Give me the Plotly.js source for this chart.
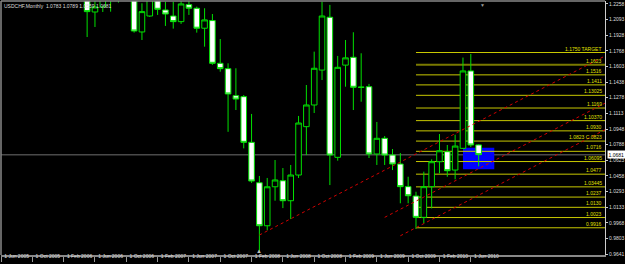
<!DOCTYPE html>
<html><head><meta charset="utf-8">
<script src="https://cdn.plot.ly/plotly-3.0.1.min.js"></script>
<style>html,body{margin:0;padding:0;background:#000;}#chart{width:625px;height:264px;}</style>
</head><body><div id="chart"></div>
<script>
const months = ['Jun 2005','Jul 2005','Aug 2005','Sep 2005','Oct 2005','Nov 2005','Dec 2005',
 'Jan 2006','Feb 2006','Mar 2006','Apr 2006','May 2006','Jun 2006','Jul 2006','Aug 2006','Sep 2006','Oct 2006','Nov 2006','Dec 2006',
 'Jan 2007','Feb 2007','Mar 2007','Apr 2007','May 2007','Jun 2007','Jul 2007','Aug 2007','Sep 2007','Oct 2007','Nov 2007','Dec 2007',
 'Jan 2008','Feb 2008','Mar 2008','Apr 2008','May 2008','Jun 2008','Jul 2008','Aug 2008','Sep 2008','Oct 2008','Nov 2008','Dec 2008',
 'Jan 2009','Feb 2009','Mar 2009','Apr 2009','May 2009','Jun 2009','Jul 2009','Aug 2009','Sep 2009','Oct 2009','Nov 2009','Dec 2009',
 'Jan 2010','Feb 2010','Mar 2010','Apr 2010','May 2010','Jun 2010','Jul 2010'];
const open = [1.2460,1.2810,1.2860,1.2480,1.2930,1.2900,1.3230,1.3150,1.2790,1.3120,1.3050,1.2370,1.2174,1.2227,1.2320,1.2350,1.2500,1.2530,1.1965,
 1.2132,1.2470,1.2195,1.2132,1.2073,1.2251,1.2213,1.2004,1.2084,1.1637,1.1581,1.1298,
 1.1288,1.0810,1.0387,0.9937,1.0345,1.0408,1.0199,1.0468,1.0974,1.1201,1.1566,1.2119,
 1.0653,1.1618,1.1700,1.1390,1.1392,1.0688,1.0852,1.0677,1.0583,1.0346,1.0248,1.0025,
 1.0346,1.0607,1.0712,1.0520,1.0747,1.1557,1.0783];
const high = [1.2870,1.3090,1.2920,1.2990,1.2990,1.3280,1.3290,1.3170,1.3160,1.3290,1.3060,1.2450,1.2570,1.2560,1.2530,1.2600,1.2760,1.2580,1.2265,
 1.2560,1.2550,1.2282,1.2282,1.2300,1.2360,1.2230,1.2213,1.2153,1.1891,1.1637,1.1585,
 1.1305,1.1107,1.0458,1.0437,1.0625,1.0541,1.0573,1.1086,1.1410,1.1759,1.2282,1.2248,
 1.1714,1.1881,1.1962,1.1742,1.1421,1.1023,1.0876,1.0740,1.0698,1.0450,1.0293,1.0503,
 1.0632,1.0897,1.0782,1.0890,1.1697,1.1735,1.0789];
const low = [1.2410,1.2630,1.2350,1.2380,1.2740,1.2810,1.2950,1.2520,1.2760,1.2980,1.2340,1.1912,1.2017,1.2174,1.2177,1.2272,1.2420,1.1958,1.1881,
 1.2122,1.2143,1.2028,1.2000,1.2049,1.2143,1.1958,1.1811,1.1621,1.1549,1.0920,1.1148,
 1.0747,1.0385,0.9660,0.9890,1.0199,1.0122,1.0007,1.0437,1.0677,1.1117,1.1462,1.0363,
 1.0618,1.1392,1.1148,1.1235,1.0646,1.0573,1.0573,1.0520,1.0172,1.0172,0.9903,0.9962,
 1.0119,1.0486,1.0450,1.0423,1.0740,1.0760,1.0559];
const close = [1.2810,1.2860,1.2480,1.2930,1.2900,1.3230,1.3150,1.2790,1.3120,1.3050,1.2370,1.2178,1.2227,1.2320,1.2350,1.2500,1.2530,1.1975,1.2178,
 1.2470,1.2202,1.2153,1.2073,1.2258,1.2213,1.2004,1.2091,1.1637,1.1581,1.1316,1.1263,
 1.0810,1.0405,0.9937,1.0345,1.0416,1.0199,1.0468,1.1012,1.1201,1.1585,1.2132,1.0677,
 1.1595,1.1694,1.1386,1.1384,1.0688,1.0852,1.0677,1.0583,1.0346,1.0251,1.0025,1.0346,
 1.0607,1.0722,1.0513,1.0771,1.1557,1.0782,1.0681];

const xTickMonths = ['Jun 2005','Oct 2005','Feb 2006','Jun 2006','Oct 2006','Feb 2007','Jun 2007','Oct 2007','Feb 2008','Jun 2008','Oct 2008','Feb 2009','Jun 2009','Oct 2009','Feb 2010','Jun 2010'];
const priceTicks = [1.2258,1.2093,1.1928,1.1768,1.1603,1.1438,1.1278,1.1113,1.0948,1.0788,1.0623,1.0458,1.0293,1.0133,0.9968,0.9803,0.9641];

const fibStart = 'Nov 2009';
const fibLevels = [0.9916,1.0023,1.0130,1.0237,1.0344,1.0477,1.0609,1.0716,1.0823,1.0930,1.1037,1.1169,1.1302,1.1411,1.1516,1.1623,1.1750];
const fibLabels = ['0.9916','1.0023','1.0130','1.0237','1.03445','1.0477','1.06095','1.0716','1.0823 C.0823','1.0930','1.10370','1.1169','1.13025','1.1411','1.1516','1.1623','1.1750 TARGET'];

const chanStart = ['Mar 2008','Jul 2009','Sep 2009'];
const chanPrice = [0.9840,1.0025,0.9832];
const chanSlope = 0.004245;

const zoneStart = 'May 2010';
const zoneMonths = 4;
const zoneLow = 1.0528, zoneHigh = 1.0754;

const symbol = 'USDCHF,Monthly';
const xEnd = 77.14;
const yRange = [0.9631, 1.2289];

const idx = m => months.indexOf(m);
const n = months.length;
const last = n - 1;
const FONT = 'Liberation Sans, Arial';

const shapes = [];
shapes.push({type:'rect', xref:'x', yref:'y', x0: idx(zoneStart), x1: idx(zoneStart)+zoneMonths, y0: zoneLow, y1: zoneHigh,
  fillcolor:'#0000ff', line:{width:0}, layer:'below'});
fibLevels.forEach((v,i)=>{
  const isRef = fibLabels[i]==='1.1623';
  shapes.push({type:'line', xref:'x', yref:'y', x0: idx(fibStart), x1: xEnd, y0: v, y1: v,
    line:{color: isRef ? '#7a7a00' : '#c8c800', width: isRef ? 2 : 1}, layer:'below'});
});
shapes.push({type:'line', xref:'paper', yref:'y', x0:0, x1:1, y0: close[last], y1: close[last], line:{color:'#4a4a4a', width:1.5}, layer:'below'});
chanStart.forEach((m,i)=>{
  const x0 = idx(m);
  shapes.push({type:'line', xref:'x', yref:'y', x0: x0, x1: xEnd, y0: chanPrice[i], y1: chanPrice[i] + chanSlope*(xEnd - x0),
    line:{color:'#d00000', width:1, dash:'dot'}, layer:'above'});
});
shapes.push({type:'line', xref:'paper', yref:'paper', x0:0, x1:1, y0:1, y1:1, line:{color:'#888', width:1.5}});
shapes.push({type:'line', xref:'paper', yref:'paper', x0:0, x1:0, y0:0, y1:1, line:{color:'#888', width:1.5}});

const annotations = [];
fibLevels.forEach((v,i)=>{
  annotations.push({xref:'paper', yref:'y', x: 0.997, y: v, xanchor:'right', yanchor:'bottom', text: fibLabels[i],
    showarrow:false, font:{family:FONT, size:5, color:'#e0e000'}, borderpad:0});
});
annotations.push({xref:'paper', yref:'paper', x:0.003, y:0.997, xanchor:'left', yanchor:'top',
  text: symbol + '  ' + [open[last],high[last],low[last],close[last]].map(v=>v.toFixed(4)).join(' '),
  showarrow:false, font:{family:FONT, size:5, color:'#dddddd'}, borderpad:0});
annotations.push({xref:'paper', yref:'y', x:1, y: close[last], xanchor:'left', yanchor:'middle', xshift:2,
  text: close[last].toFixed(4), showarrow:false, bgcolor:'#ffffff', font:{family:FONT, size:5, color:'#000'}, borderpad:0.5});
annotations.push({xref:'x', yref:'paper', x: idx('Mar 2008'), y:0, xanchor:'center', yanchor:'bottom', text:'▲',
  showarrow:false, font:{size:6, color:'#bbbbbb'}, borderpad:0});
annotations.push({xref:'x', yref:'paper', x: 61.55, y:1, xanchor:'center', yanchor:'top', text:'▼',
  showarrow:false, font:{size:5, color:'#999999'}, borderpad:0});

const trace = {
  type:'candlestick', x: months, open: open, high: high, low: low, close: close,
  increasing:{line:{color:'#00e000', width:1}, fillcolor:'#000000'},
  decreasing:{line:{color:'#00e000', width:1}, fillcolor:'#ffffff'},
  whiskerwidth:0, hoverinfo:'skip'
};

const layout = {
  width:625, height:264,
  margin:{l:1, r:20, t:1, b:9},
  paper_bgcolor:'#000', plot_bgcolor:'#000',
  showlegend:false,
  boxgap:0.25, boxgroupgap:0.05,
  font:{family:FONT, size:5, color:'#ddd'},
  xaxis:{type:'category', range:[0, xEnd], rangeslider:{visible:false}, showgrid:false, zeroline:false,
    tickmode:'array', tickvals: xTickMonths, ticktext: xTickMonths.map(m=>'1 '+m),
    ticks:'outside', ticklen:5, tickcolor:'#999', tickwidth:1, tickangle:0, ticklabelposition:'outside right',
    ticklabelstandoff:-5, ticklabelshift:2, automargin:false,
    tickfont:{family:FONT, size:5, color:'#dddddd'},
    showline:true, linecolor:'#888', linewidth:1.5, fixedrange:true},
  yaxis:{side:'right', range:yRange, showgrid:false, zeroline:false,
    tickmode:'array', tickvals: priceTicks, ticktext: priceTicks.map(v=>v.toFixed(4)),
    ticks:'outside', ticklen:2, tickcolor:'#ccc', automargin:false,
    tickfont:{family:FONT, size:5, color:'#dddddd'},
    showline:true, linecolor:'#cccccc', linewidth:1, fixedrange:true},
  shapes: shapes, annotations: annotations
};

Plotly.newPlot('chart', [trace], layout, {staticPlot:true, displayModeBar:false});
</script></body></html>
